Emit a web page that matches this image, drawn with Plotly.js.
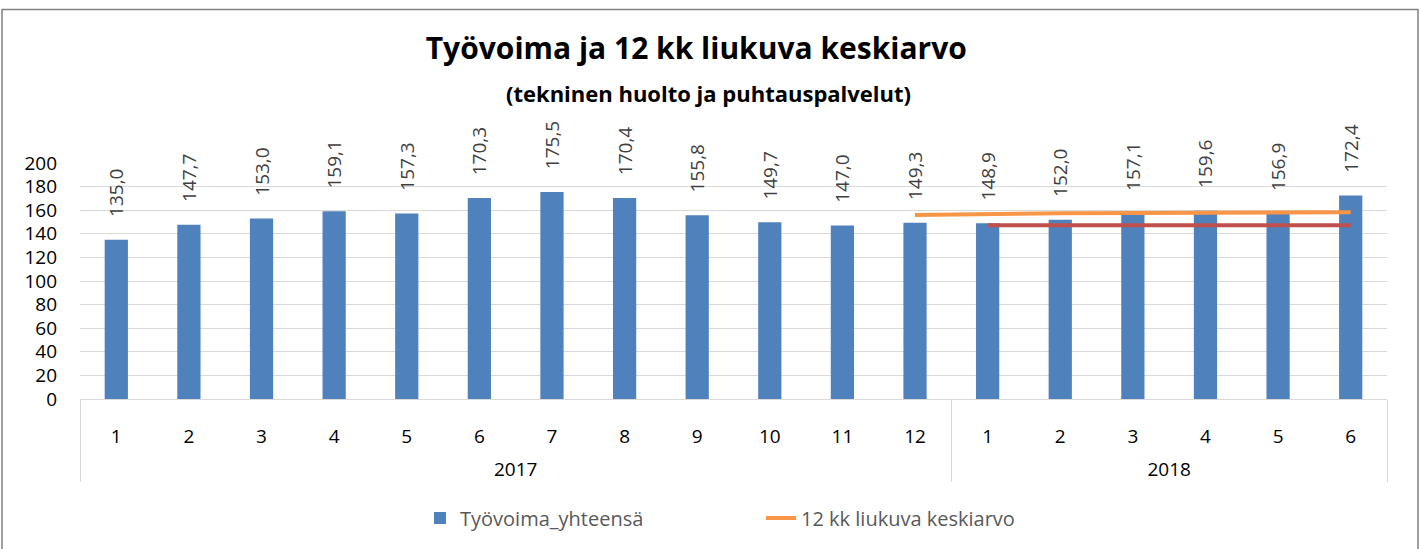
<!DOCTYPE html>
<html>
<head>
<meta charset="utf-8">
<script src="https://cdn.plot.ly/plotly-3.0.1.min.js"></script>
<style>
html,body{margin:0;padding:0;background:#fff;}
#chart{width:1421px;height:549px;}
</style>
</head>
<body>
<div id="chart"></div>
<script>
// Data
const years = ['2017','2017','2017','2017','2017','2017','2017','2017','2017','2017','2017','2017','2018','2018','2018','2018','2018','2018'];
const months = ['1','2','3','4','5','6','7','8','9','10','11','12','1','2','3','4','5','6'];
const tyovoima = [135.0,147.7,153.0,159.1,157.3,170.3,175.5,170.4,155.8,149.7,147.0,149.3,148.9,152.0,157.1,159.6,156.9,172.4];

const avgYears = ['2017','2018','2018','2018','2018','2018','2018'];
const avgMonths = ['12','1','2','3','4','5','6'];
const liukuvaKa = [156.0,157.0,157.4,157.7,157.9,158.0,158.2];

const refYears = ['2018','2018','2018','2018','2018','2018'];
const refMonths = ['1','2','3','4','5','6'];
const refValues = [147.3,147.3,147.3,147.3,147.3,147.3];

const FONT = 'Open Sans, Noto Sans, Liberation Sans, sans-serif';
const pad = '\u00a0\u00a0\u00a0\u00a0';
// outer (year) labels are pushed down one line to leave room like the original
const outer = arr => arr.map(y => '<br>' + y);

const traces = [
  {
    type:'bar', name:'Työvoima_yhteensä',
    x:[outer(years), months], y:tyovoima,
    marker:{color:'#4f81bd'},
    text: tyovoima.map(v => pad + v.toFixed(1).replace('.', ',')),
    textposition:'outside', textangle:-90, cliponaxis:false, constraintext:'none',
    textfont:{family:FONT, size:19, color:'#404040'},
    hoverinfo:'y'
  },
  {
    type:'scatter', mode:'lines', name:'12 kk liukuva keskiarvo',
    x:[outer(avgYears), avgMonths], y:liukuvaKa,
    line:{color:'#f79646', width:4}
  },
  {
    type:'scatter', mode:'lines', name:'keskiarvo', showlegend:false,
    x:[outer(refYears), refMonths], y:refValues,
    line:{color:'#c0504d', width:4}
  }
];

const l=80, r=34, t=163, b=146, W=1421, H=549;
const pw=W-l-r, ph=H-t-b;
const px = v => (v-l)/pw;
const py = v => (H-b-v)/ph;

const layout = {
  width:W, height:H,
  margin:{l:l, r:r, t:t, b:b},
  paper_bgcolor:'#fff', plot_bgcolor:'#fff',
  separators:',.',
  font:{family:FONT, color:'#000'},
  title:{text:'<b>Työvoima ja 12 kk liukuva keskiarvo</b>', font:{family:FONT, size:30, color:'#000'},
         x:0.49, xanchor:'center', y:1-48/H, yanchor:'middle', xref:'container', yref:'container'},
  annotations:[{
    text:'<b>(tekninen huolto ja puhtauspalvelut)</b>', showarrow:false,
    xref:'paper', yref:'paper', x:px(708), y:py(92), xanchor:'center', yanchor:'middle',
    font:{family:FONT, size:22, color:'#000'}
  }],
  bargap:0.68,
  xaxis:{
    type:'multicategory', showdividers:true, dividercolor:'#d9d9d9', dividerwidth:1,
    showline:true, linecolor:'#d9d9d9', linewidth:1,
    ticklabelstandoff:20,
    tickfont:{family:FONT, size:19, color:'#000'},
    showgrid:false
  },
  yaxis:{
    range:[0,200], dtick:20, tick0:0, showgrid:true, gridcolor:'#d9d9d9', gridwidth:1,
    zeroline:false, showline:false, ticks:'', ticklabelstandoff:22,
    tickfont:{family:FONT, size:19, color:'#000'}
  },
  legend:{orientation:'h', x:px(420), xanchor:'left', y:py(524), yanchor:'middle',
          font:{family:FONT, size:20, color:'#595959'}, traceorder:'normal', entrywidth:296},
  shapes:[{
    type:'rect', xref:'paper', yref:'paper',
    x0:px(2), x1:px(1418), y0:py(7), y1:py(560),
    line:{color:'#808080', width:1.5}, fillcolor:'rgba(0,0,0,0)', layer:'above'
  }],
  showlegend:true
};

Plotly.newPlot('chart', traces, layout, {displayModeBar:false, staticPlot:true});
</script>
</body>
</html>
